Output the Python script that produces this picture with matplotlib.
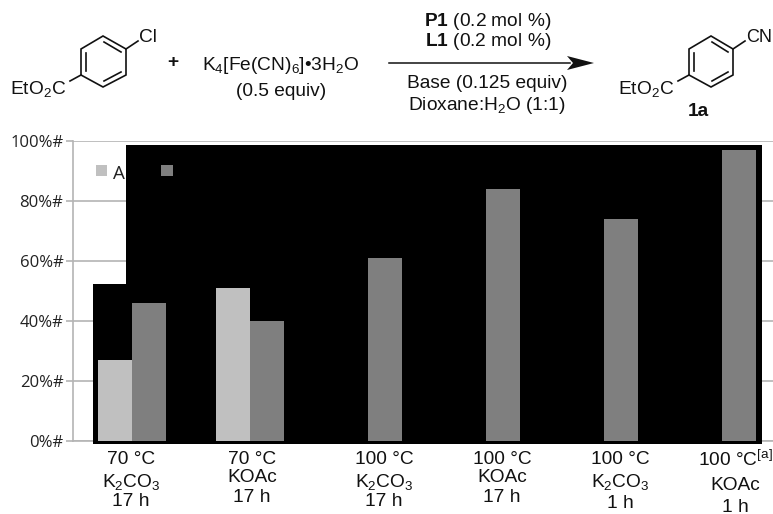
import matplotlib
matplotlib.use("Agg")
import matplotlib.pyplot as plt
import numpy as np
from matplotlib.patches import Polygon, Rectangle
from matplotlib.transforms import Affine2D

W, H = 773, 514

light_values = [27, 51, 0, 0, 0, 0]
dark_values = [46, 40, 61, 84, 74, 97]
y_ticks = [0, 20, 40, 60, 80, 100]
y_labels = ["0%#", "20%#", "40%#", "60%#", "80%#", "100%#"]
legend_label = "A"

# category text, one list per bar group: (line, y pixel)
cat_centers = [131, 252, 384, 502, 620, 735]
cat_lines = [
    [("70 °C", 459), (r"K$_2$CO$_3$", 482), ("17 h", 502)],
    [("70 °C", 459), ("KOAc", 478), ("17 h", 497)],
    [("100 °C", 459), (r"K$_2$CO$_3$", 482), ("17 h", 502)],
    [("100 °C", 459), ("KOAc", 478), ("17 h", 497)],
    [("100 °C", 460), (r"K$_2$CO$_3$", 482), ("1 h", 503)],
    [("100 °C$^{[a]}$", 460), ("KOAc", 485), ("1 h", 507)],
]

plt.rcParams["font.family"] = "Liberation Sans"
plt.rcParams["mathtext.fontset"] = "custom"
plt.rcParams["mathtext.rm"] = "Liberation Sans"
plt.rcParams["mathtext.bf"] = "Liberation Sans:bold"
plt.rcParams["mathtext.default"] = "rm"

fig = plt.figure(figsize=(W / 100, H / 100), dpi=100)
# pixel coordinates of the reference, y going down
px = Affine2D().scale(1 / W, -1 / H).translate(0, 1) + fig.transFigure

ax = fig.add_axes([73 / W, 1 - 441 / H, 700 / W, 300 / H])
x = np.arange(len(dark_values))
bar_w = 0.285
ax.set_xlim(-0.5, 5.432)
ax.set_ylim(0, 100)

GRID = "#b4b4b4"
ax.set_axisbelow(True)
ax.yaxis.grid(True, color=GRID, linewidth=1.2)
ax.set_xticks([])
ax.set_yticks(y_ticks)
ax.set_yticklabels(y_labels, family="Open Sans", fontsize=12, color="#222222")
ax.tick_params(axis="y", color=GRID, length=5, width=1.2, pad=2)
for side in ("top", "right"):
    ax.spines[side].set_visible(False)
for side in ("left", "bottom"):
    ax.spines[side].set_color(GRID)
    ax.spines[side].set_linewidth(1.2)

# black block that covers most of the plot area
block = [(93, 444), (93, 284), (126, 284), (126, 145), (762, 145), (762, 444)]
ax.add_patch(Polygon(block, closed=True, facecolor="black", edgecolor="none",
                     transform=px, clip_on=False, zorder=2.7))

ax.bar(x - bar_w / 2, light_values, bar_w, color="#c0c0c0", zorder=3)
ax.bar(x + bar_w / 2, dark_values, bar_w, color="#7f7f7f", zorder=3)

# legend
ax.add_patch(Rectangle((96, 165), 11, 11, facecolor="#c0c0c0", transform=px, zorder=4))
ax.add_patch(Rectangle((161, 165), 12, 11, facecolor="#7f7f7f", transform=px, zorder=4))
ax.text(118.5, 174, legend_label, transform=px, family="Open Sans", fontsize=13.5,
        ha="center", va="center", color="#222222", zorder=4)

for center, lines in zip(cat_centers, cat_lines):
    for line, y in lines:
        ax.text(center, y, line, transform=px, fontsize=13.8, ha="center", va="center",
                color="#111111", clip_on=False)


def scheme_text(xp, yp, s, size=13.8, **kw):
    ax.text(xp, yp, s, transform=px, fontsize=size, ha="center", va="center",
            color="#111111", clip_on=False, **kw)


def draw_ring(left, mid, right):
    top, upper, lower, bottom = 36, 49, 75, 87
    ring = [(mid, top), (right, upper), (right, lower), (mid, bottom), (left, lower), (left, upper)]
    ax.add_patch(Polygon(ring, closed=True, fill=False, edgecolor="#111111", linewidth=1.2,
                         transform=px, clip_on=False))
    inner = [
        ((left + 5, upper + 4), (left + 5, lower - 4)),
        ((mid + 1, top + 6), (right - 5, upper + 3)),
        ((mid + 1, bottom - 6), (right - 5, lower - 3)),
    ]
    for a, b in inner:
        ax.plot([a[0], b[0]], [a[1], b[1]], color="#111111", linewidth=1.2,
                transform=px, clip_on=False)
    # substituent bonds
    ax.plot([right, right + 12], [upper, upper - 8], color="#111111", linewidth=1.2,
            transform=px, clip_on=False)
    ax.plot([left, left - 11], [lower, lower + 6], color="#111111", linewidth=1.2,
            transform=px, clip_on=False)


draw_ring(81, 103, 126)
draw_ring(689, 711, 733)

scheme_text(148, 38, "Cl")
scheme_text(38, 89, r"EtO$_2$C")
scheme_text(173, 63, "+", fontweight="bold")
scheme_text(281, 65, r"K$_4$[Fe(CN)$_6$]•3H$_2$O")
scheme_text(281, 91, "(0.5 equiv)")
scheme_text(488, 21, r"$\mathbf{P1}$ (0.2 mol %)")
scheme_text(488, 42, r"$\mathbf{L1}$ (0.2 mol %)")
scheme_text(487, 83, "Base (0.125 equiv)")
scheme_text(487, 106, r"Dioxane:H$_2$O (1:1)")
scheme_text(759, 38, "CN", size=13)
scheme_text(646, 89, r"EtO$_2$C")
scheme_text(698, 111, "1a", fontweight="bold")

# reaction arrow
ax.plot([389, 570], [63, 63], color="#111111", linewidth=1.1, transform=px, clip_on=False)
ax.add_patch(Polygon([(594, 63), (567, 56), (573, 63), (567, 70)], closed=True,
                     facecolor="#111111", edgecolor="none", transform=px, clip_on=False))

fig.savefig("out.png", dpi=100, facecolor="white")
